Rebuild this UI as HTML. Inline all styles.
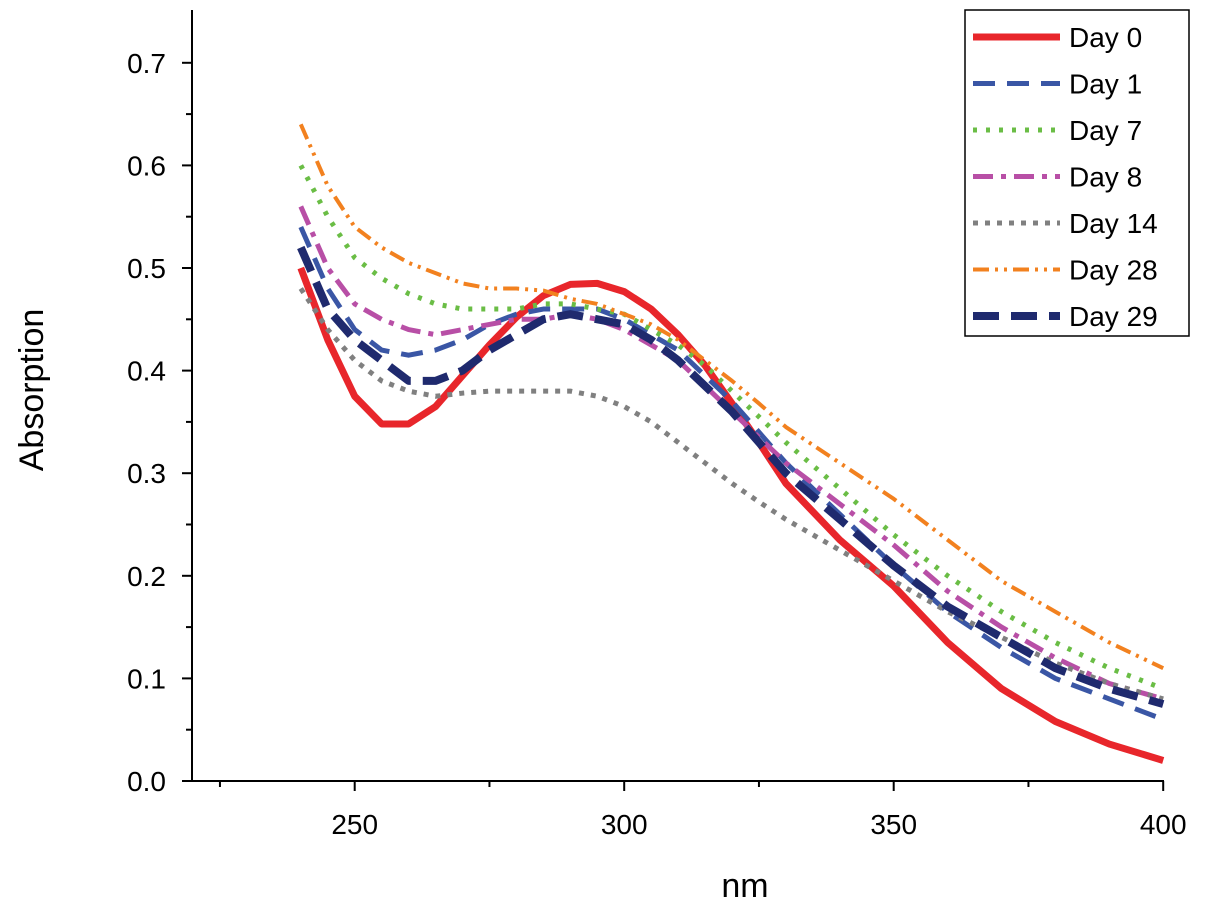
<!DOCTYPE html>
<html><head><meta charset="utf-8"><style>
body{margin:0;background:#fff;}
svg{display:block;font-family:"Liberation Sans",Arial,sans-serif;}
</style></head><body>
<svg id="chart" width="1205" height="909"></svg>
<script>
const xs=[240,245,250,255,260,265,270,275,280,285,290,295,300,305,310,315,320,325,330,340,350,360,370,380,390,400];
const day0=[0.50,0.43,0.375,0.348,0.348,0.365,0.395,0.425,0.452,0.473,0.484,0.485,0.477,0.46,0.435,0.405,0.368,0.33,0.29,0.235,0.19,0.135,0.09,0.058,0.036,0.02];
const day1=[0.54,0.48,0.44,0.42,0.415,0.42,0.43,0.445,0.455,0.46,0.46,0.46,0.45,0.435,0.42,0.395,0.37,0.34,0.31,0.26,0.21,0.165,0.13,0.10,0.08,0.06];
const day7=[0.60,0.55,0.51,0.49,0.475,0.465,0.46,0.46,0.46,0.465,0.465,0.46,0.455,0.44,0.425,0.405,0.38,0.355,0.33,0.285,0.24,0.20,0.165,0.135,0.11,0.09];
const day8=[0.56,0.50,0.465,0.45,0.44,0.435,0.44,0.445,0.45,0.45,0.455,0.45,0.44,0.425,0.41,0.385,0.36,0.335,0.31,0.27,0.23,0.185,0.15,0.12,0.095,0.08];
const day14=[0.48,0.44,0.41,0.39,0.38,0.375,0.378,0.38,0.38,0.38,0.38,0.375,0.365,0.35,0.33,0.31,0.29,0.272,0.255,0.225,0.195,0.165,0.14,0.115,0.095,0.08];
const day28=[0.64,0.58,0.54,0.52,0.505,0.495,0.485,0.48,0.48,0.478,0.47,0.465,0.455,0.445,0.43,0.41,0.39,0.368,0.345,0.31,0.275,0.235,0.195,0.165,0.135,0.11];
const day29=[0.52,0.46,0.43,0.41,0.39,0.39,0.40,0.42,0.435,0.45,0.455,0.45,0.445,0.43,0.41,0.385,0.36,0.33,0.30,0.255,0.21,0.17,0.14,0.11,0.09,0.075];
const seriesNames=["Day 0","Day 1","Day 7","Day 8","Day 14","Day 28","Day 29"];
const seriesData=[day0,day1,day7,day8,day14,day28,day29];
const yTicks=[0,0.1,0.2,0.3,0.4,0.5,0.6,0.7];
const xTicks=[250,300,350,400];
const styles=[
 {c:"#e8262b",w:7,d:""},{c:"#3a56a5",w:5,d:"22,12"},{c:"#6abd45",w:5,d:"4,9"},
 {c:"#b84fa6",w:5,d:"20,8,5,8"},{c:"#808080",w:5,d:"5,7"},{c:"#f2811f",w:4,d:"16,6,3,6,3,6"},
 {c:"#1f2a6e",w:8,d:"26,12"}];
const X=v=>193+(v-220)*269.5/50;
const Y=v=>781-v*1026;
const svg=document.getElementById('chart');
const NS="http://www.w3.org/2000/svg";
function mk(t,a,p){const e=document.createElementNS(NS,t);for(const k in a)e.setAttribute(k,a[k]);(p||svg).appendChild(e);return e;}
let ax=mk('line',{x1:192,y1:10,x2:192,y2:782,stroke:'#000','stroke-width':2});


ax=mk('line',{x1:191,y1:781,x2:1164,y2:781,stroke:'#000','stroke-width':2});


for(let i=0;i<15;i++){const v=i*0.05;const maj=i%2==0;
 mk('line',{x1:192,x2:maj?182:186,y1:Y(v),y2:Y(v),stroke:'#000','stroke-width':2});
 if(maj){const t=mk('text',{x:166,y:Y(v)+10,'text-anchor':'end','font-size':28});t.textContent=yTicks[i/2].toFixed(1);
 
 }}
for(let v=225;v<=400;v+=25){const maj=xTicks.includes(v);
 mk('line',{x1:X(v),x2:X(v),y1:781,y2:maj?791:787,stroke:'#000','stroke-width':2});
 if(maj){const t=mk('text',{x:X(v),y:834,'text-anchor':'middle','font-size':28});t.textContent=v;
 
 }}
let t=mk('text',{x:745,y:897,'text-anchor':'middle','font-size':34});t.textContent='nm';


t=mk('text',{x:43,y:390,'text-anchor':'middle','font-size':34,transform:'rotate(-90 43 390)'});t.textContent='Absorption';


seriesData.forEach((d,i)=>{const s=styles[i];
 const p=mk('polyline',{points:xs.map((x,j)=>X(x)+','+Y(d[j])).join(' '),fill:'none',stroke:s.c,'stroke-width':s.w,'stroke-dasharray':s.d,'stroke-linejoin':'round'});
 
 });
const lg=mk('g',{});


mk('rect',{x:965,y:10,width:224,height:326,fill:'#fff',stroke:'#000','stroke-width':1.5},lg);
seriesNames.forEach((n,i)=>{const s=styles[i];const y=37+i*46.5;
 const g=mk('g',{},lg);
 
 
 mk('line',{x1:973,x2:1060,y1:y,y2:y,stroke:s.c,'stroke-width':s.w,'stroke-dasharray':s.d},g);
 const tt=mk('text',{x:1069,y:y+10,'font-size':28},g);tt.textContent=n;});
</script>
</body></html>
